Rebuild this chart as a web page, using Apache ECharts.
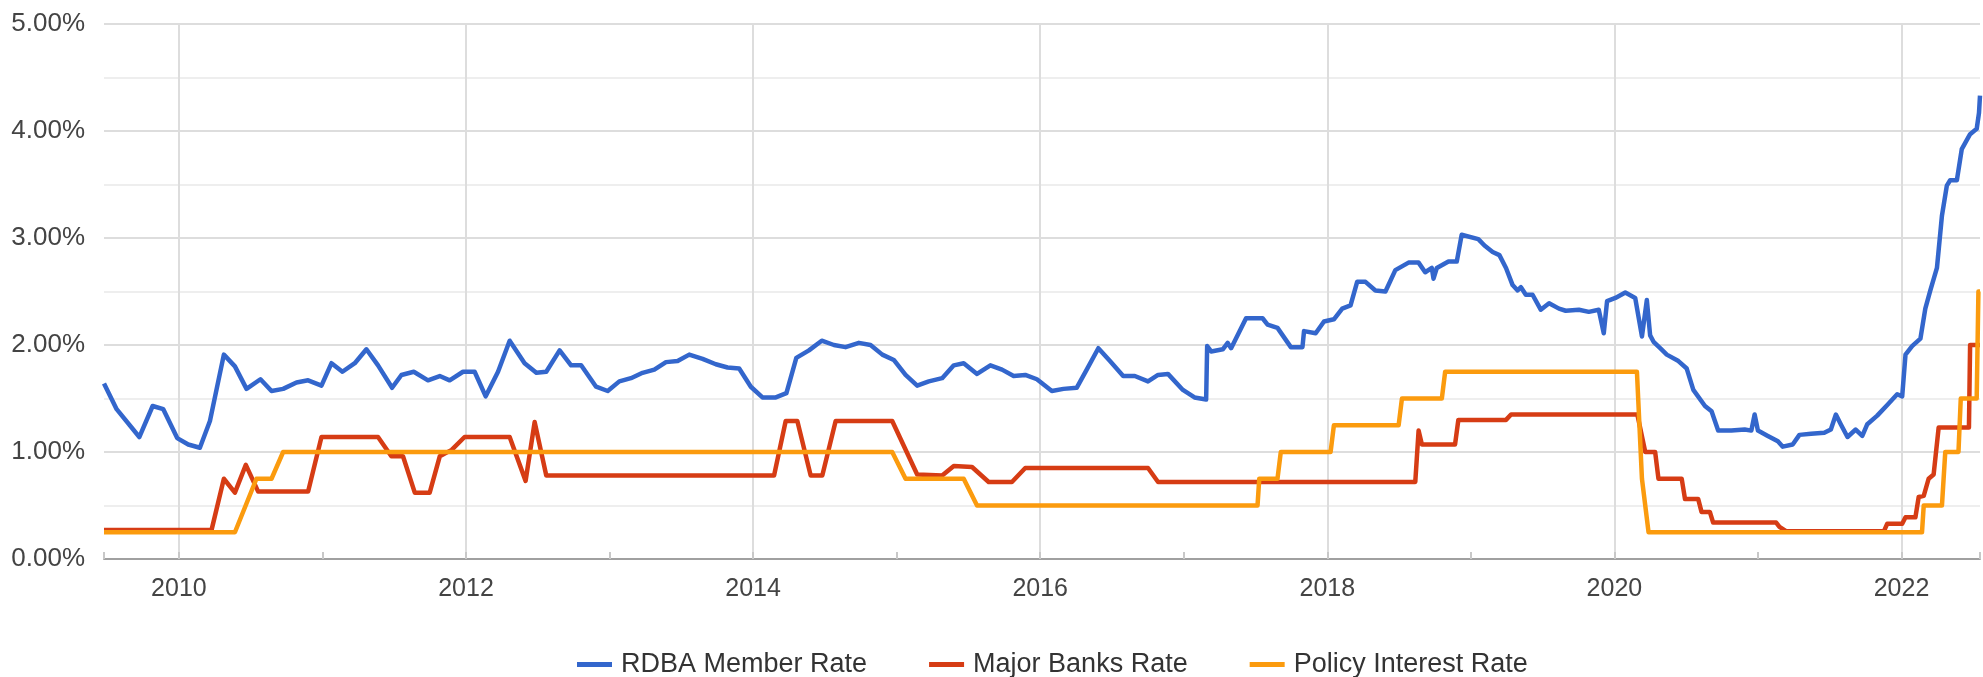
<!DOCTYPE html>
<html>
<head>
<meta charset="utf-8">
<script src="https://cdn.jsdelivr.net/npm/echarts@6/dist/echarts.min.js"></script>
<style>
	html, body { margin: 0; padding: 0; background: #fff; }
	#chart { width: 1983px; height: 677px; }
</style>
</head>
<body>
<div id="chart"></div>
<script>
// names shown in the legend
var seriesNames = ['RDBA Member Rate', 'Major Banks Rate', 'Policy Interest Rate'];

// visible date window (decimal years)
var yearMin = 2009.478;
var yearMax = 2022.547;

// RDBA member rate (%)
var rdbaYear = [2009.478, 2009.566, 2009.724, 2009.817, 2009.891, 2009.988, 2010.065, 2010.146, 2010.216, 2010.313,
	2010.39, 2010.471, 2010.568, 2010.645, 2010.726, 2010.819, 2010.9, 2010.993, 2011.063, 2011.139,
	2011.225, 2011.306, 2011.387, 2011.485, 2011.55, 2011.636, 2011.735, 2011.817, 2011.886, 2011.979,
	2012.06, 2012.137, 2012.223, 2012.304, 2012.408, 2012.49, 2012.559, 2012.652, 2012.732, 2012.802,
	2012.906, 2012.987, 2013.068, 2013.149, 2013.23, 2013.312, 2013.393, 2013.474, 2013.555, 2013.648,
	2013.74, 2013.822, 2013.903, 2013.984, 2014.065, 2014.158, 2014.232, 2014.301, 2014.389, 2014.478,
	2014.563, 2014.644, 2014.737, 2014.818, 2014.9, 2014.98, 2015.062, 2015.143, 2015.224, 2015.317,
	2015.398, 2015.467, 2015.56, 2015.653, 2015.734, 2015.815, 2015.896, 2015.977, 2016.081, 2016.162,
	2016.254, 2016.324, 2016.405, 2016.486, 2016.578, 2016.659, 2016.751, 2016.821, 2016.89, 2016.994,
	2017.075, 2017.156, 2017.163, 2017.191, 2017.272, 2017.306, 2017.33, 2017.434, 2017.549, 2017.584,
	2017.653, 2017.746, 2017.827, 2017.838, 2017.919, 2017.977, 2018.046, 2018.104, 2018.162, 2018.208,
	2018.266, 2018.335, 2018.405, 2018.474, 2018.566, 2018.636, 2018.682, 2018.728, 2018.74, 2018.763,
	2018.844, 2018.902, 2018.936, 2019.052, 2019.095, 2019.152, 2019.199, 2019.245, 2019.291, 2019.326,
	2019.349, 2019.383, 2019.43, 2019.487, 2019.545, 2019.614, 2019.661, 2019.753, 2019.822, 2019.891,
	2019.926, 2019.949, 2020.007, 2020.076, 2020.145, 2020.192, 2020.226, 2020.249, 2020.273, 2020.319,
	2020.365, 2020.446, 2020.504, 2020.55, 2020.631, 2020.677, 2020.723, 2020.815, 2020.908, 2020.954,
	2020.977, 2021.0, 2021.069, 2021.139, 2021.173, 2021.242, 2021.289, 2021.37, 2021.462, 2021.508,
	2021.543, 2021.577, 2021.624, 2021.681, 2021.727, 2021.762, 2021.831, 2021.901, 2021.97, 2022.005,
	2022.028, 2022.074, 2022.132, 2022.166, 2022.201, 2022.247, 2022.282, 2022.316, 2022.339, 2022.386,
	2022.42, 2022.478, 2022.524, 2022.54, 2022.547];
var rdbaRate = [1.64, 1.40, 1.14, 1.43, 1.40, 1.13, 1.07, 1.04, 1.29, 1.91,
	1.80, 1.59, 1.68, 1.57, 1.59, 1.65, 1.67, 1.62, 1.83, 1.75,
	1.83, 1.96, 1.81, 1.60, 1.72, 1.75, 1.67, 1.71, 1.67, 1.75,
	1.75, 1.52, 1.75, 2.04, 1.83, 1.74, 1.75, 1.95, 1.81, 1.81,
	1.61, 1.57, 1.66, 1.69, 1.74, 1.77, 1.84, 1.85, 1.91, 1.87,
	1.82, 1.79, 1.78, 1.61, 1.51, 1.51, 1.55, 1.88, 1.95, 2.04,
	2.00, 1.98, 2.02, 2.00, 1.91, 1.86, 1.72, 1.62, 1.66, 1.69,
	1.81, 1.83, 1.73, 1.81, 1.77, 1.71, 1.72, 1.68, 1.57, 1.59,
	1.60, 1.77, 1.97, 1.85, 1.71, 1.71, 1.66, 1.72, 1.73, 1.58,
	1.51, 1.49, 1.99, 1.94, 1.96, 2.02, 1.97, 2.25, 2.25, 2.19,
	2.16, 1.98, 1.98, 2.13, 2.11, 2.22, 2.24, 2.34, 2.37, 2.59,
	2.59, 2.51, 2.50, 2.70, 2.77, 2.77, 2.68, 2.72, 2.62, 2.72,
	2.78, 2.78, 3.03, 2.99, 2.93, 2.87, 2.84, 2.72, 2.56, 2.51,
	2.54, 2.47, 2.47, 2.33, 2.39, 2.34, 2.32, 2.33, 2.31, 2.33,
	2.11, 2.41, 2.44, 2.49, 2.44, 2.08, 2.42, 2.09, 2.03, 1.97,
	1.91, 1.85, 1.78, 1.58, 1.43, 1.38, 1.20, 1.20, 1.21, 1.20,
	1.35, 1.20, 1.15, 1.10, 1.05, 1.07, 1.16, 1.17, 1.18, 1.21,
	1.35, 1.26, 1.14, 1.21, 1.15, 1.26, 1.34, 1.44, 1.54, 1.52,
	1.91, 1.99, 2.06, 2.34, 2.51, 2.72, 3.21, 3.49, 3.54, 3.54,
	3.83, 3.97, 4.02, 4.17, 4.33];

// major banks rate (%)
var majorYear = [2009.478, 2010.227, 2010.313, 2010.39, 2010.466, 2010.552, 2010.9, 2010.993, 2011.387, 2011.48,
	2011.561, 2011.643, 2011.747, 2011.817, 2011.9, 2011.99, 2012.304, 2012.415, 2012.478, 2012.559,
	2014.146, 2014.227, 2014.308, 2014.401, 2014.482, 2014.575, 2014.969, 2015.143, 2015.317, 2015.398,
	2015.525, 2015.641, 2015.803, 2015.896, 2016.751, 2016.821, 2018.613, 2018.636, 2018.659, 2018.89,
	2018.913, 2019.245, 2019.28, 2020.16, 2020.215, 2020.284, 2020.307, 2020.469, 2020.492, 2020.584,
	2020.607, 2020.665, 2020.688, 2021.127, 2021.15, 2021.196, 2021.878, 2021.901, 2022.005, 2022.028,
	2022.097, 2022.12, 2022.155, 2022.189, 2022.224, 2022.259, 2022.47, 2022.478, 2022.547];
var majorRate = [0.27, 0.27, 0.75, 0.62, 0.88, 0.63, 0.63, 1.14, 1.14, 0.96,
	0.96, 0.62, 0.62, 0.96, 1.02, 1.14, 1.14, 0.73, 1.28, 0.78,
	0.78, 1.29, 1.29, 0.78, 0.78, 1.29, 1.29, 0.79, 0.78, 0.87,
	0.86, 0.72, 0.72, 0.85, 0.85, 0.72, 0.72, 1.20, 1.07, 1.07,
	1.30, 1.30, 1.35, 1.35, 1.00, 1.00, 0.75, 0.75, 0.56, 0.56,
	0.44, 0.44, 0.34, 0.34, 0.30, 0.26, 0.26, 0.33, 0.33, 0.39,
	0.39, 0.58, 0.59, 0.75, 0.79, 1.23, 1.23, 2.00, 2.00];

// policy interest rate (%)
var policyYear = [2009.478, 2010.39, 2010.54, 2010.645, 2010.726, 2014.969, 2015.062, 2015.467, 2015.56, 2017.514,
	2017.526, 2017.653, 2017.676, 2018.023, 2018.046, 2018.497, 2018.52, 2018.798, 2018.821, 2020.157,
	2020.192, 2020.238, 2022.143, 2022.155, 2022.282, 2022.305, 2022.397, 2022.413, 2022.524, 2022.536,
	2022.547];
var policyRate = [0.25, 0.25, 0.75, 0.75, 1.00, 1.00, 0.75, 0.75, 0.50, 0.50,
	0.75, 0.75, 1.00, 1.00, 1.25, 1.25, 1.50, 1.50, 1.75, 1.75,
	0.75, 0.25, 0.25, 0.50, 0.50, 1.00, 1.00, 1.50, 1.50, 2.50,
	2.50];

var colors = ['#3366cc', '#d63c14', '#fb9b0e'];
var font = 'Arial, "Liberation Sans", sans-serif';

function pairs(xs, ys) {
	var out = [];
	for (var i = 0; i < xs.length; i++) {
		out.push([xs[i], ys[i]]);
	}
	return out;
}

function lineSeries(name, data, color) {
	return {
		name: name,
		type: 'line',
		xAxisIndex: 0,
		data: data,
		showSymbol: false,
		symbol: 'none',
		color: color,
		lineStyle: { width: 4.5, color: color, join: 'round' },
		emphasis: { disabled: true }
	};
}

var myChart = echarts.init(document.getElementById('chart'));

var option = {
	animation: false,
	backgroundColor: '#ffffff',
	textStyle: { fontFamily: font },
	grid: {
		left: 104,
		right: 0,
		top: 24,
		bottom: 118
	},
	legend: {
		left: 572,
		top: 646,
		icon: 'rect',
		itemWidth: 35,
		itemHeight: 5,
		itemGap: 62,
		data: seriesNames,
		textStyle: {
			fontFamily: font,
			fontSize: 27,
			color: '#333',
			padding: [0, 0, 0, 4]
		}
	},
	xAxis: [
		{
			type: 'value',
			min: yearMin,
			max: yearMax,
			splitNumber: 6,
			axisLine: { show: true, lineStyle: { color: '#a0a0a0', width: 2 } },
			axisTick: { show: false },
			axisLabel: {
				margin: 18,
				fontSize: 25,
				color: '#444',
				fontFamily: font,
				formatter: function (v) {
					var r = Math.round(v);
					return (Math.abs(v - r) < 1e-6 && r % 2 === 0) ? String(r) : '';
				}
			},
			splitLine: {
				show: true,
				showMinLine: false,
				showMaxLine: false,
				lineStyle: { color: '#dddddd', width: 2 }
			}
		},
		{
			// odd-year tick marks
			type: 'value',
			position: 'bottom',
			min: yearMin,
			max: yearMax,
			splitNumber: 13,
			axisLine: { show: false },
			axisTick: { show: true, inside: true, length: 7, lineStyle: { color: '#c8c8c8', width: 2 } },
			axisLabel: { show: false },
			splitLine: { show: false }
		}
	],
	yAxis: {
		type: 'value',
		min: 0,
		max: 5,
		interval: 1,
		axisLine: { show: false },
		axisTick: { show: false },
		axisLabel: {
			margin: 19,
			fontSize: 26,
			color: '#444',
			fontFamily: font,
			formatter: function (v) { return v.toFixed(2) + '%'; }
		},
		splitLine: { show: true, lineStyle: { color: '#dddddd', width: 2 } },
		minorTick: { show: false, splitNumber: 2 },
		minorSplitLine: { show: true, lineStyle: { color: '#eeeeee', width: 2 } }
	},
	series: [
		lineSeries(seriesNames[0], pairs(rdbaYear, rdbaRate), colors[0]),
		lineSeries(seriesNames[1], pairs(majorYear, majorRate), colors[1]),
		lineSeries(seriesNames[2], pairs(policyYear, policyRate), colors[2])
	]
};

myChart.setOption(option);
</script>
</body>
</html>
